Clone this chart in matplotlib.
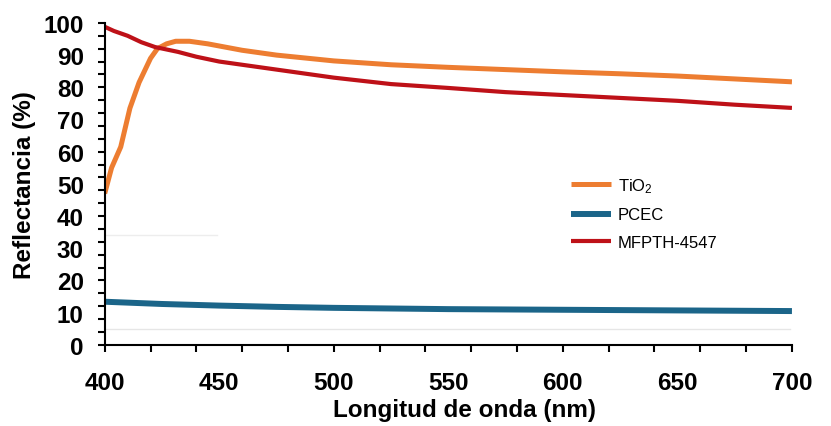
import numpy as np
import matplotlib.pyplot as plt
from matplotlib.ticker import MultipleLocator

plt.rcParams['font.family'] = ['Liberation Sans', 'DejaVu Sans']
plt.rcParams['mathtext.fontset'] = 'custom'
plt.rcParams['mathtext.rm'] = 'Liberation Sans'
plt.rcParams['mathtext.it'] = 'Liberation Sans:italic'

# TiO2
wl_tio2 = [400, 403, 407, 411, 415, 420, 423, 427, 431, 437, 445, 460, 475,
           500, 525, 550, 575, 600, 625, 650, 675, 700]
r_tio2 = [47, 55, 61.5, 73.5, 81.5, 89, 92, 93.5, 94.3, 94.3, 93.5, 91.5, 90,
          88.2, 87, 86.2, 85.5, 84.8, 84.2, 83.5, 82.6, 81.7]

# PCEC
wl_pcec = [400, 425, 450, 475, 500, 550, 600, 650, 700]
r_pcec = [13.4, 12.7, 12.2, 11.8, 11.5, 11.1, 10.9, 10.7, 10.5]

# MFPTH-4547
wl_mf = [400, 404, 410, 416, 422, 432, 440, 450, 467, 480, 500, 525, 550,
         575, 600, 625, 650, 675, 700]
r_mf = [98.8, 97.5, 96, 94, 92.5, 91, 89.5, 88, 86.3, 85, 83, 81, 79.8,
        78.5, 77.6, 76.7, 75.8, 74.6, 73.6]

fig = plt.figure(figsize=(8.31, 4.27), dpi=100)
ax = fig.add_axes([0.126, 0.19, 0.827, 0.754])

# restos de líneas grises tenues de la imagen original
ax.plot([400, 449], [34, 34], color='#ededed', lw=1)
ax.plot([400, 699], [4.9, 4.9], color='#e6e6e6', lw=1)

ax.plot(wl_tio2, r_tio2, color='#ED7D31', lw=3.6, label='TiO$_2$',
        solid_capstyle='butt')
ax.plot(wl_pcec, r_pcec, color='#1B6589', lw=4.3, label='PCEC',
        solid_capstyle='butt')
ax.plot(wl_mf, r_mf, color='#BE1118', lw=3.0, label='MFPTH-4547',
        solid_capstyle='butt')

ax.set_xlim(400, 700)
ax.set_ylim(0, 100)

ax.xaxis.set_major_locator(MultipleLocator(50))
ax.xaxis.set_minor_locator(MultipleLocator(20))
ax.xaxis.remove_overlapping_locs = False
ax.yaxis.set_major_locator(MultipleLocator(10))
ax.yaxis.set_minor_locator(MultipleLocator(4))
ax.yaxis.remove_overlapping_locs = False

ax.tick_params(axis='x', which='major', length=0, pad=19, labelsize=17.5)
ax.tick_params(axis='x', which='minor', length=5, width=1.5, direction='out')
ax.tick_params(axis='y', which='major', length=0, pad=15, labelsize=17.5)
ax.tick_params(axis='y', which='minor', length=5, width=1.5, direction='out')
for lab in ax.get_xticklabels() + ax.get_yticklabels():
    lab.set_fontweight('bold')

for s in ['top', 'right']:
    ax.spines[s].set_visible(False)
for s in ['left', 'bottom']:
    ax.spines[s].set_linewidth(1.5)

ax.set_xlabel('Longitud de onda (nm)', fontsize=17.5, fontweight='bold')
ax.set_ylabel('Reflectancia (%)', fontsize=17.5, fontweight='bold')
ax.xaxis.set_label_coords(0.523, -0.165)
ax.yaxis.set_label_coords(-0.1, 0.5)

ax.legend(loc='upper left', bbox_to_anchor=(0.687, 0.585),
          bbox_transform=fig.transFigure, frameon=False, fontsize=12,
          borderpad=0, borderaxespad=0, handlelength=2.4,
          handletextpad=0.4, labelspacing=0.75)

fig.savefig('out.png', dpi=100)
